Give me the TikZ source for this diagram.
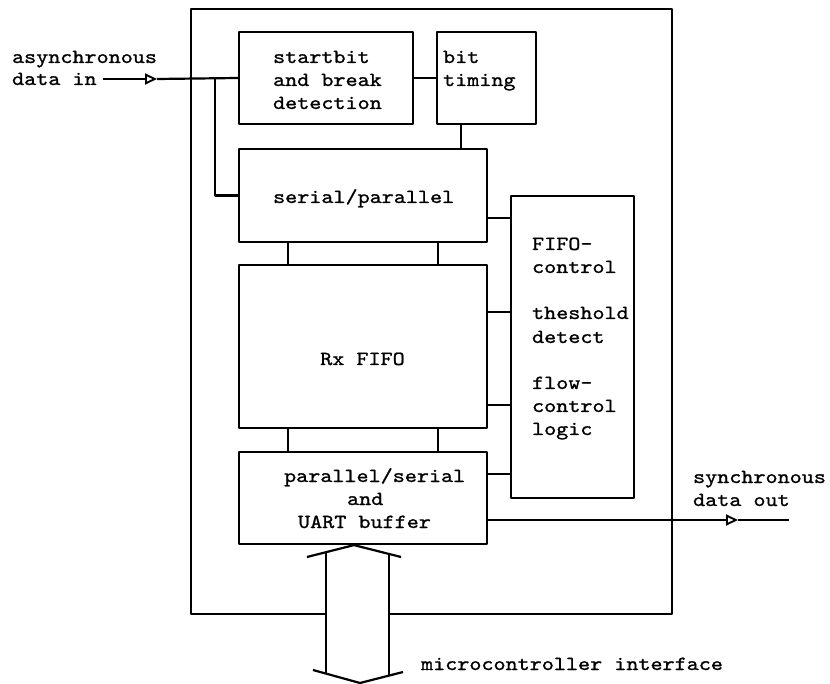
\documentclass[tikz,border=0pt]{standalone}
\usepackage{fontspec}
\setmonofont{lmmono10-regular.otf}[FakeBold=1.1,FakeStretch=1.15]
\usetikzlibrary{arrows.meta,calc}
\begin{document}
\begin{tikzpicture}[x=1pt,y=-1pt,line width=2.2pt,line join=round,
  blk/.style={draw,line width=2.2pt,inner sep=0pt},
  txt/.style={inner sep=0pt,anchor=base west,font=\fontsize{20}{23}\selectfont\ttfamily},
  ctxt/.style={txt,anchor=base},
  opentip/.style={-{Triangle[open,length=12pt,width=11pt,line width=1.9pt]}}]
\useasboundingbox (0,0) rectangle (830,684);

% outer frame, left open where the bus passes through
\draw (326,614) -- (191,614) -- (191,9) -- (672,9) -- (672,614) -- (389,614);

% functional blocks
\node[blk,minimum width=174pt,minimum height=92pt]  (sb)   at (326,78)    {};
\node[blk,minimum width=99pt, minimum height=92pt]  (bt)   at (486.5,78)  {};
\node[blk,minimum width=248pt,minimum height=93pt]  (sp)   at (363,195.5) {};
\node[blk,minimum width=248pt,minimum height=163pt] (fifo) at (363,346.5) {};
\node[blk,minimum width=248pt,minimum height=92pt]  (ps)   at (363,498)   {};
\node[blk,minimum width=123pt,minimum height=302pt] (ctrl) at (572.5,347) {};

% block texts
\node[txt] (sb1) at (272,63)  {startbit};
\node[txt] (sb2) at (272,86)  {and break};
\node[txt] (sb3) at (272,109) {detection};
\node[txt] (bt1) at (442,63)  {bit};
\node[txt] (bt2) at (442,86)  {timing};
\node[txt] (sp1) at (272,203) {serial/parallel};
\node[ctxt] (ff1) at (362.5,365) {Rx FIFO};
\node[txt] (ps1) at (283,482) {parallel/serial};
\node[txt] (ps2) at (346,505) {and};
\node[txt] (ps3) at (297,528) {UART buffer};
\node[txt] (c1) at (531,250) {FIFO-};
\node[txt] (c2) at (531,273) {control};
\node[txt] (c3) at (531,319) {theshold};
\node[txt] (c4) at (531,343) {detect};
\node[txt] (c5) at (531,389) {flow-};
\node[txt] (c6) at (531,412) {control};
\node[txt] (c7) at (531,435) {logic};

% external labels
\node[txt] (in1) at (11,63) {asynchronous};
\node[txt] (in2) at (11,85) {data in};
\node[txt] (out1) at (692,483) {synchronous};
\node[txt] (out2) at (692,506) {data out};
\node[txt] (mcu) at (420,670) {microcontroller interface};

% serial input
\coordinate (inStart) at (103,79);
\coordinate (inTip) at (157,79);
\coordinate (br) at (215,79);
\draw[opentip] (inStart) -- (inTip);
\draw (inTip) -- (sb.west);
\draw (br) -- (br |- sp.west) -- (sp.west);

% internal connections
\draw (sb.east) -- (bt.west);
\draw ($(bt.south west)!0.25!(bt.south east)$) coordinate (t1) -- (t1 |- sp.north);
\foreach \f/\n in {0.2/a,0.8/b}{
  \draw ($(sp.south west)!\f!(sp.south east)$) coordinate (u\n) -- (u\n |- fifo.north);
  \draw ($(fifo.south west)!\f!(fifo.south east)$) coordinate (l\n) -- (l\n |- ps.north);
}
\draw (sp.east |- 0,218)   -- (ctrl.west |- 0,218);
\draw (fifo.east |- 0,312) -- (ctrl.west |- 0,312);
\draw (fifo.east |- 0,405) -- (ctrl.west |- 0,405);
\draw (ps.east |- 0,474)   -- (ctrl.west |- 0,474);

% serial output
\coordinate (outTip) at (738,520);
\coordinate (outEnd) at (789,520);
\draw[opentip] (ps.east |- outTip) -- (outTip);
\draw (outTip) -- (outEnd);

% microcontroller bus (double arrow)
\coordinate (busTop) at ([xshift=-9pt]ps.south);
\coordinate (busBot) at (360,683);
\draw (307,557) -- (busTop) -- (401,557);
\draw (313,670) -- (busBot) -- (403,672);
\draw (326,551.7) -- (326,673.6);
\draw (389,553.7) -- (389,675.6);
\end{tikzpicture}
\end{document}
